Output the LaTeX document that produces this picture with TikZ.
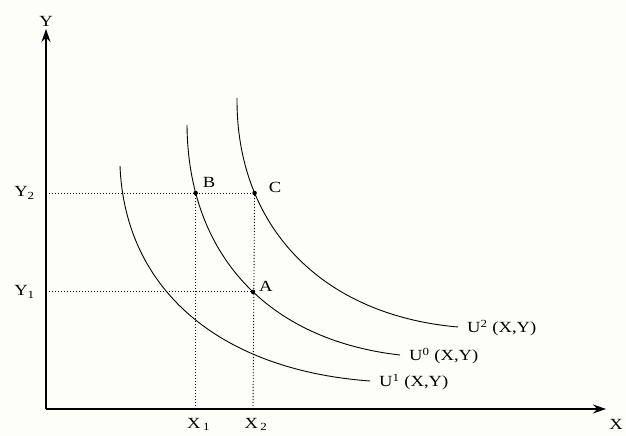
\documentclass[tikz,border=0pt]{standalone}
\usepackage{fontspec}
\setmainfont{Liberation Serif}
\usepackage{graphicx}
\usepackage{tikz}
\usetikzlibrary{positioning, arrows.meta, intersections}
\definecolor{sfondo}{RGB}{253,253,249}
% testo un po' allargato, come nell'originale
\newcommand{\largo}[1]{\scalebox{1.2}[1]{#1}}

\begin{document}
\begin{tikzpicture}[
        x=1pt, y=-1pt,
        % frecce degli assi piene
        >={Stealth[length=13pt, width=9pt]},
        asse/.style={->, line width=1.1pt},
        curva/.style={line width=0.9pt},
        proiez/.style={line width=0.9pt, dash pattern=on 1.2pt off 1.8pt},
        punto/.style={circle, fill, inner sep=0pt, minimum size=4.5pt},
        etichetta/.style={font=\fontsize{15.5}{18}\selectfont, inner sep=1pt},
        node distance=4pt
    ]
        \fill[sfondo] (0,0) rectangle (626,436);
        \useasboundingbox (0,0) rectangle (626,436);

        % Assi
        \coordinate (O) at (46,409);
        \coordinate (ytip) at (46,29);
        \coordinate (xtip) at (606,409);
        \draw[asse] (O) -- (ytip);
        \draw[asse] (O) -- (xtip);
        \node[etichetta, above=1pt of ytip] (ylab) {\largo{Y}};
        \node[etichetta] (xlab) at (616,424) {\largo{X}};

        % Curve di indifferenza
        \draw[curva, name path=U1] (120,166) .. controls (125,290) and (220,370) .. (370,381) coordinate (fineU1);
        \draw[curva, name path=U0] (187,125) .. controls (188,255) and (268,340) .. (400,355) coordinate (fineU0);
        \draw[curva, name path=U2] (237,98) .. controls (236,225) and (320,315) .. (458,327) coordinate (fineU2);
        \node[etichetta, right=8pt of fineU1, yshift=-1pt] (labU1) {\largo{U\textsuperscript{1} (X,Y)}};
        \node[etichetta, right=8pt of fineU0, yshift=-1pt] (labU0) {\largo{U\textsuperscript{0} (X,Y)}};
        \node[etichetta, right=8pt of fineU2, yshift=-1pt] (labU2) {\largo{U\textsuperscript{2} (X,Y)}};

        % Punti sulle curve
        \path[name path=livY2] (46,193) -- (600,193);
        \path[name path=livX2] (253,20) -- (253,409);
        \path[name intersections={of=U0 and livY2, by=pB}];
        \path[name intersections={of=U2 and livY2, by=pC}];
        \path[name intersections={of=U0 and livX2, by=pA}];
        \node[punto] (B) at (pB) {};
        \node[punto] (C) at (pC) {};
        \node[punto] (A) at (pA) {};
        \node[etichetta, above right=4pt and 6pt of B.center] (labB) {\largo{B}};
        \node[etichetta, right=13pt of C.center, yshift=6pt] (labC) {\largo{C}};
        \node[etichetta, right=5pt of A.center, yshift=5pt] (labA) {\largo{A}};

        % Proiezioni sugli assi
        \coordinate (y2) at (O |- C);
        \coordinate (y1) at (O |- A);
        \coordinate (x1) at (O -| B);
        \coordinate (x2) at (O -| A);
        \draw[proiez] (y2) -- (C.center);
        \draw[proiez] (y1) -- (A.center);
        \draw[proiez] (x1) -- (B.center);
        \draw[proiez] (x2) -- (C.center);
        \node[etichetta, left=10pt of y2] (labY2) {\largo{Y\textsubscript{2}}};
        \node[etichetta, left=10pt of y1] (labY1) {\largo{Y\textsubscript{1}}};
        \node[etichetta, below=8pt of x1, xshift=3pt] (labX1) {\largo{X\hspace{2pt}\textsubscript{1}}};
        \node[etichetta, below=8pt of x2, xshift=3pt] (labX2) {\largo{X\hspace{2pt}\textsubscript{2}}};

    \end{tikzpicture}
\end{document}
